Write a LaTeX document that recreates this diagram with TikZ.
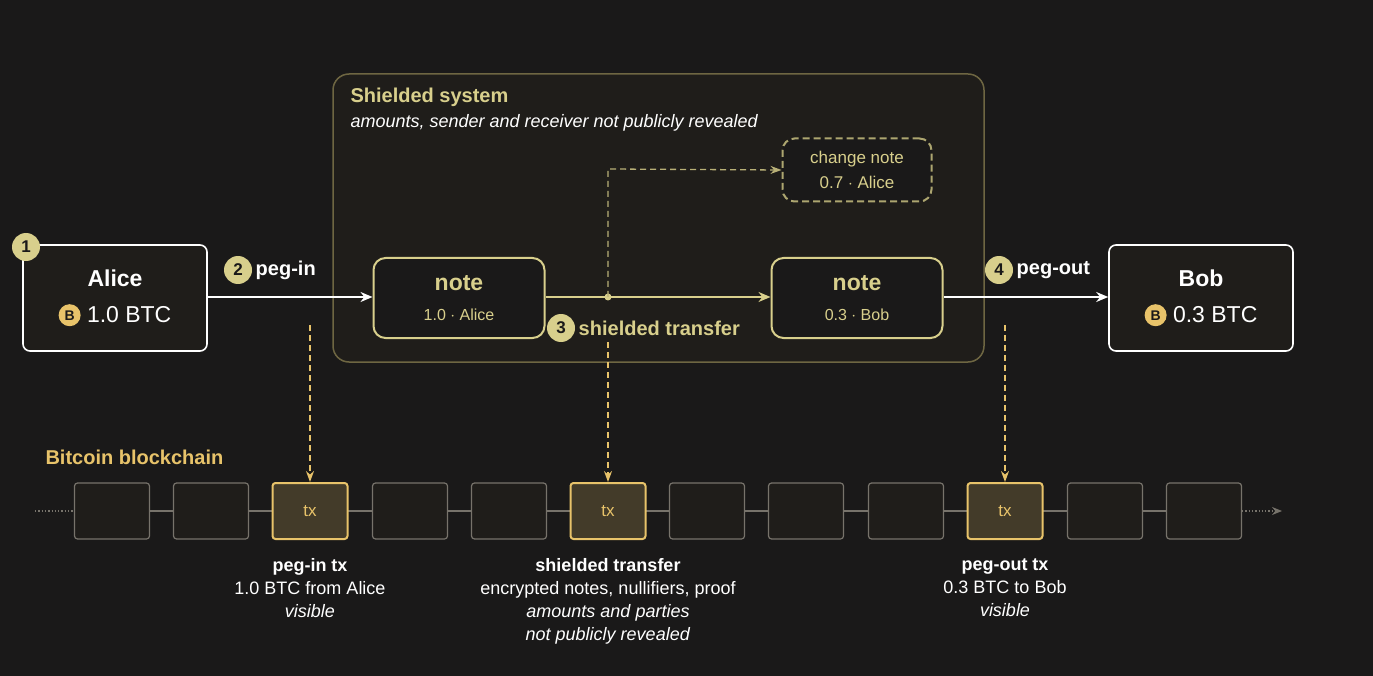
\documentclass[tikz,border=0pt]{standalone}
\usepackage{fontspec}
\setmainfont{Liberation Sans}
\usetikzlibrary{arrows.meta}
\definecolor{bg}{HTML}{1A1919}
\definecolor{gold}{HTML}{E8C36A}
\definecolor{pale}{HTML}{D8CF8C}
\definecolor{olive}{HTML}{6E6642}
\definecolor{boxfill}{HTML}{1F1D1A}
\definecolor{grey}{HTML}{77736B}
\tikzset{
  party/.style={draw=white, line width=1.6pt, rounded corners=7pt, fill=boxfill, minimum width=184pt, minimum height=106pt, align=center, text=white, font=\fontsize{23}{36}\selectfont},
  notebox/.style={draw=pale, line width=2pt, rounded corners=12pt, fill=bg, minimum width=171pt, minimum height=80pt, align=center, text=pale, font=\fontsize{23}{30}\selectfont},
  block/.style={draw=grey, line width=1.2pt, rounded corners=3pt, fill=boxfill, minimum width=75pt, minimum height=56pt, text=gold, font=\fontsize{17}{20}\selectfont},
  txblock/.style={block, draw=gold, line width=2pt, fill=gold!20!bg},
  stepmark/.style={circle, fill=pale, text=bg, inner sep=0pt, minimum size=28pt, font=\bfseries\fontsize{17}{20}\selectfont},
  coin/.style={circle, fill=gold, text=bg, inner sep=0pt, minimum size=22pt, font=\bfseries\fontsize{14}{16}\selectfont},
  flow/.style={white, line width=2pt, -{Stealth[length=12pt,width=10pt]}},
  peek/.style={gold, line width=1.3pt, dash pattern=on 6pt off 4pt, -{Stealth[length=11pt,width=8pt]}},
  caption/.style={text=white, align=center, font=\fontsize{18}{23}\selectfont}
}
\begin{document}
\begin{tikzpicture}[x=1pt,y=-1pt]
  \fill[bg] (0,0) rectangle (1373,676);
  \useasboundingbox (0,0) rectangle (1373,676);

  % shielded system
  \draw[olive, line width=1.5pt, fill=boxfill, rounded corners=16pt] (333,74) rectangle (984,362);
  \node[anchor=west, text=pale, font=\bfseries\fontsize{20}{23}\selectfont] (shtitle) at (347,97) {Shielded system};
  \node[anchor=west, text=white!80, font=\itshape\fontsize{18}{21}\selectfont] (shsub) at (347,123) {amounts, sender and receiver not publicly revealed};

  % parties
  \node[party] (alice) at (115,298) {\textbf{Alice}\\
    \tikz[baseline=-0.6ex]\node[coin]{B}; 1.0 BTC};
  \node[party] (bob) at (1201,298) {\textbf{Bob}\\
    \tikz[baseline=-0.6ex]\node[coin]{B}; 0.3 BTC};
  \node[stepmark] (s1) at (26,247) {1};

  % notes
  \node[notebox] (nin) at (459,298) {\textbf{note}\\\fontsize{16}{19}\selectfont 1.0 $\cdot$ Alice};
  \node[notebox] (nout) at (857,298) {\textbf{note}\\\fontsize{16}{19}\selectfont 0.3 $\cdot$ Bob};
  \node[draw=pale!80!black, line width=2pt, dash pattern=on 7pt off 4pt, rounded corners=12pt, fill=bg,
        minimum width=149pt, minimum height=63pt, align=center, text=pale, font=\fontsize{17}{25}\selectfont]
        (change) at (857,170) {change note\\0.7 $\cdot$ Alice};

  % flows
  \draw[flow] (alice.east |- 0,297) -- (nin.west |- 0,297);
  \draw[pale, line width=2pt] (nin.east |- 0,297) -- (608,297) coordinate (split);
  \draw[flow, pale] (split) -- (nout.west |- 0,297);
  \fill[pale] (split) circle (3.5pt);
  \draw[peek, pale!85!black] (split) -- (608,169) -- (change.west);
  \draw[flow] (nout.east |- 0,297) -- (bob.west |- 0,297);

  \node[stepmark] (s2) at (238,270) {2};
  \node[anchor=west, text=white, font=\bfseries\fontsize{20}{23}\selectfont] (l2) at (s2.east) {peg-in};
  \node[stepmark] (s3) at (561,328) {3};
  \node[anchor=west, text=pale, font=\bfseries\fontsize{20}{23}\selectfont] (l3) at (s3.east) {shielded transfer};
  \node[stepmark] (s4) at (999,270) {4};
  \node[anchor=west, text=white, font=\bfseries\fontsize{20}{23}\selectfont] (l4) at (s4.east) {peg-out};

  % blockchain
  \node[anchor=west, text=gold, font=\bfseries\fontsize{20}{23}\selectfont] (chain) at (42,457) {Bitcoin blockchain};
  \coordinate (cstart) at (35,511);
  \coordinate (cend) at (1282,511);
  \draw[grey, line width=1.3pt, dotted] (cstart) -- (75,511);
  \draw[grey, line width=1.3pt] (75,511) -- (1242,511);
  \draw[grey, line width=1.3pt, dotted, -{Stealth[length=10pt,width=8pt]}] (1242,511) -- (cend);
  \foreach \i/\x in {1/112,2/211,4/410,5/509,7/707,8/806,9/906,11/1105,12/1204}
    \node[block] (b\i) at (\x,511) {};
  \node[txblock] (b3) at (310,511) {tx};
  \node[txblock] (b6) at (608,511) {tx};
  \node[txblock] (b10) at (1005,511) {tx};

  \coordinate (p1) at (310,325);
  \coordinate (p2) at (608,342);
  \coordinate (p3) at (1005,325);
  \draw[peek] (p1) -- (b3.north);
  \draw[peek] (p2) -- (b6.north);
  \draw[peek] (p3) -- (b10.north);

  \node[caption, anchor=north] (c1) at (310,555) {\textbf{peg-in tx}\\1.0 BTC from Alice\\\textit{visible}};
  \node[caption, anchor=north] (c2) at (608,555) {\textbf{shielded transfer}\\encrypted notes, nullifiers, proof\\\textit{amounts and parties}\\\textit{not publicly revealed}};
  \node[caption, anchor=north] (c3) at (1005,555) {\textbf{peg-out tx}\\0.3 BTC to Bob\\\textit{visible}};
\end{tikzpicture}
\end{document}
